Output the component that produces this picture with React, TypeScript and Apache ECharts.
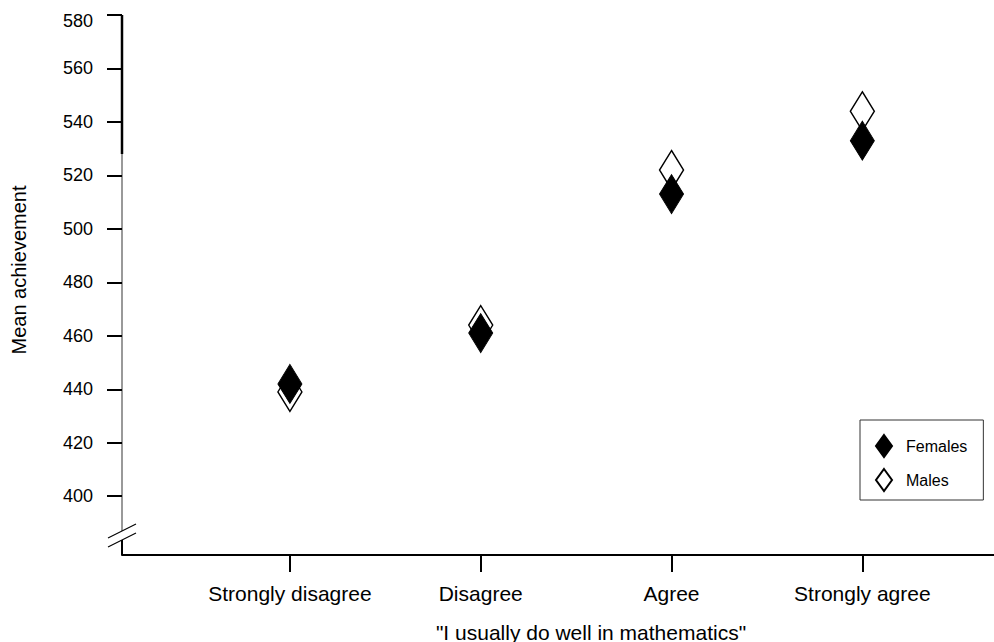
import React, { useEffect, useRef } from "react";
import * as echarts from "echarts";

// Survey response categories on the x axis
const categories = ["Strongly disagree", "Disagree", "Agree", "Strongly agree"];
// Mean achievement scores per response category
const females = [442, 461, 513, 533];
const males = [439, 464, 522, 544];
// Tick values on the achievement axis
const yTicks = [400, 420, 440, 460, 480, 500, 520, 540, 560, 580];

const FONT = "'Liberation Sans', Arial, Helvetica, sans-serif";

export default function App() {
  const ref = useRef<HTMLDivElement>(null);

  useEffect(() => {
    if (!ref.current) return;
    const chart = echarts.init(ref.current, null, { renderer: "svg" });

    const yMin = 378;
    const yMax = 580;
    const xMin = -0.88;
    const xMax = 3.69;

    chart.setOption({
      animation: false,
      backgroundColor: "#fff",
      grid: { left: 122, right: 0, top: 15, bottom: 87 },
      xAxis: {
        type: "value",
        min: xMin,
        max: xMax,
        axisLine: { show: true, onZero: false, lineStyle: { color: "#000", width: 2 } },
        axisTick: {
          show: true,
          customValues: categories.map((_, i) => i),
          length: 17,
          lineStyle: { color: "#000", width: 2 },
        },
        axisLabel: {
          customValues: categories.map((_, i) => i),
          formatter: (v: number) => categories[Math.round(v)] ?? "",
          color: "#000",
          fontSize: 21,
          fontFamily: FONT,
          margin: 28,
        },
        splitLine: { show: false },
      },
      yAxis: {
        type: "value",
        min: yMin,
        max: yMax,
        axisLine: { show: false, onZero: false },
        axisTick: {
          show: true,
          customValues: yTicks,
          length: 15,
          lineStyle: { color: "#000", width: 2 },
        },
        axisLabel: {
          customValues: yTicks,
          formatter: (v: number) => (v === yMax ? `{top|${v}}` : `${v}`),
          color: "#000",
          fontSize: 18,
          fontFamily: FONT,
          margin: 29,
          rich: {
            top: { fontSize: 18, fontFamily: FONT, color: "#000", padding: [12, 0, 0, 0] },
          },
        },
        splitLine: { show: false },
      },
      legend: {
        data: ["Females", "Males"],
        orient: "vertical",
        left: 860,
        top: 420,
        icon: "diamond",
        itemWidth: 16,
        itemHeight: 22,
        itemGap: 10,
        padding: [14, 16, 8, 15],
        borderColor: "#333",
        borderWidth: 1,
        backgroundColor: "#fff",
        textStyle: { color: "#000", fontSize: 16, fontFamily: FONT, padding: [0, 0, 0, 9] },
      },
      series: [
        {
          name: "Males",
          type: "scatter",
          symbol: "diamond",
          symbolSize: [24, 39],
          itemStyle: { color: "#fff", borderColor: "#000", borderWidth: 1.5, opacity: 1 },
          data: males.map((v, i) => [i, v]),
          z: 2,
        },
        {
          name: "Females",
          type: "scatter",
          symbol: "diamond",
          symbolSize: [24, 39],
          itemStyle: { color: "#000", borderColor: "#000", borderWidth: 1, opacity: 1 },
          data: females.map((v, i) => [i, v]),
          z: 3,
        },
      ],
    });

    // Broken y axis line: heavy top part, thin middle, break marks and a short stub
    const py = (v: number) => chart.convertToPixel({ yAxisIndex: 0 }, v) as number;
    const ax = chart.convertToPixel({ xAxisIndex: 0 }, xMin) as number;
    const yTop = py(yMax);
    const yThick = py(528);
    const yBreakA = py(387);
    const yBreakB = py(383.6);
    const yBottom = py(yMin);

    chart.setOption({
      graphic: [
        {
          type: "line",
          shape: { x1: ax, y1: yTop, x2: ax, y2: yThick },
          style: { stroke: "#000", lineWidth: 2.5 },
        },
        {
          type: "line",
          shape: { x1: ax, y1: yThick, x2: ax, y2: yBreakA },
          style: { stroke: "#555", lineWidth: 1.2 },
        },
        {
          type: "line",
          shape: { x1: ax - 14, y1: yBreakA + 7, x2: ax + 14, y2: yBreakA - 7 },
          style: { stroke: "#000", lineWidth: 1.2 },
        },
        {
          type: "line",
          shape: { x1: ax - 14, y1: yBreakB + 7, x2: ax + 14, y2: yBreakB - 7 },
          style: { stroke: "#000", lineWidth: 1.2 },
        },
        {
          type: "line",
          shape: { x1: ax, y1: yBreakB, x2: ax, y2: yBottom },
          style: { stroke: "#000", lineWidth: 2 },
        },
        {
          type: "text",
          x: 19,
          y: 270,
          rotation: Math.PI / 2,
          style: {
            text: "Mean achievement",
            fill: "#000",
            fontSize: 20,
            fontFamily: FONT,
            align: "center",
            verticalAlign: "middle",
          },
        },
        {
          type: "text",
          x: 591,
          y: 632,
          style: {
            text: '"I usually do well in mathematics"',
            fill: "#000",
            fontSize: 21,
            fontFamily: FONT,
            align: "center",
            verticalAlign: "middle",
          },
        },
      ],
    });

    return () => chart.dispose();
  }, []);

  return (
    <div
      ref={ref}
      style={{ position: "fixed", left: 0, top: 0, width: 994, height: 642, background: "#fff" }}
    />
  );
}
